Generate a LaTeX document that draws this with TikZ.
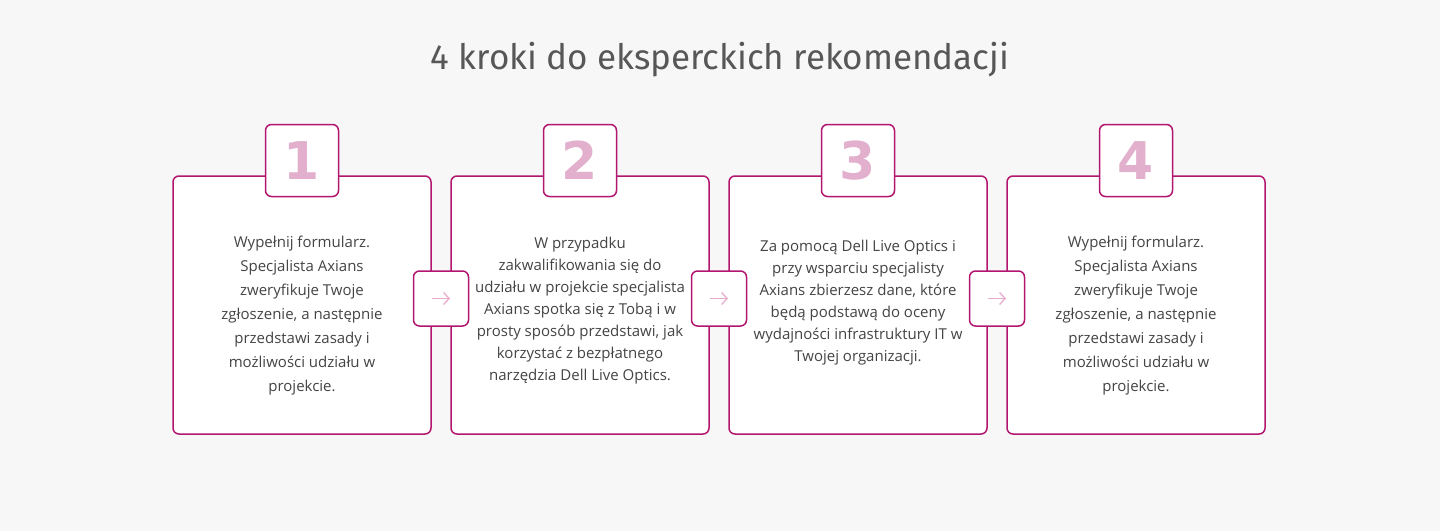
\documentclass[tikz,border=0pt]{standalone}
\usepackage{fontspec}
\setmainfont{Open Sans}
\newfontfamily\titlefont{Fira Sans}
\newfontfamily\digitfont{DejaVu Sans}
\usetikzlibrary{calc,positioning,arrows.meta}
\definecolor{bgpage}{HTML}{F7F7F7}
\definecolor{frame}{HTML}{B3166F}
\definecolor{digitpink}{HTML}{E2B0CD}
\definecolor{arrowpink}{HTML}{E8ADCD}
\definecolor{bodytext}{HTML}{444444}

\begin{document}
\begin{tikzpicture}[
      x=1pt, y=-1pt,
      every node/.style={text=bodytext},
      stepbox/.style={
        draw=frame, line width=1.5pt, fill=white,
        rounded corners=6pt,
        minimum width=258pt, minimum height=258pt,
        inner sep=0pt
      },
      numbox/.style={
        draw=frame, line width=1.5pt, fill=white,
        rounded corners=6pt,
        minimum width=73pt, minimum height=72pt,
        inner sep=0pt,
        font=\digitfont\bfseries\fontsize{52}{52}\selectfont,
        text=digitpink
      },
      arrowbox/.style={
        draw=frame, line width=1.5pt, fill=white,
        rounded corners=6pt,
        minimum width=55pt, minimum height=55pt,
        inner sep=0pt
      },
      arrowline/.style={
        draw=arrowpink, line width=1.3pt,
        -{Straight Barb[length=5.5pt,width=12pt,line width=1.3pt]}
      },
      desc/.style={
        align=center, inner sep=0pt,
        font=\fontsize{15}{24}\selectfont
      },
      desctight/.style={desc, font=\fontsize{15}{22}\selectfont}
    ]
      \fill[bgpage] (0,0) rectangle (1440,531);

      \node[font=\titlefont\fontsize{35}{35}\selectfont, text=bodytext!90] (title) at (720,60)
        {4 kroki do eksperckich rekomendacji};

      % kroki
      \node[stepbox] (s1) at (302,305) {};
      \node[stepbox] (s2) at (580,305) {};
      \node[stepbox] (s3) at (858,305) {};
      \node[stepbox] (s4) at (1136,305) {};

      \node[numbox, above=-22pt of s1.north] (n1) {1};
      \node[numbox, above=-22pt of s2.north] (n2) {2};
      \node[numbox, above=-22pt of s3.north] (n3) {3};
      \node[numbox, above=-22pt of s4.north] (n4) {4};

      % strzalki
      \node[arrowbox] (a1) at ($(s1.east)!0.5!(s2.west)+(0,-6.5)$) {};
      \node[arrowbox] (a2) at ($(s2.east)!0.5!(s3.west)+(0,-6.5)$) {};
      \node[arrowbox] (a3) at ($(s3.east)!0.5!(s4.west)+(0,-6.5)$) {};
      \draw[arrowline] ([xshift=-9pt]a1.center) -- ([xshift=9pt]a1.center);
      \draw[arrowline] ([xshift=-9pt]a2.center) -- ([xshift=9pt]a2.center);
      \draw[arrowline] ([xshift=-9pt]a3.center) -- ([xshift=9pt]a3.center);

      \node[desc] (t1) at (302,316) {
        Wypełnij formularz.\\
        Specjalista Axians\\
        zweryfikuje Twoje\\
        zgłoszenie, a następnie\\
        przedstawi zasady i\\
        możliwości udziału w\\
        projekcie.
      };
      \node[desctight] (t2) at (580,311) {
        W przypadku\\
        zakwalifikowania się do\\
        udziału w projekcie specjalista\\
        Axians spotka się z Tobą i w\\
        prosty sposób przedstawi, jak\\
        korzystać z bezpłatnego\\
        narzędzia Dell Live Optics.
      };
      \node[desctight] (t3) at (858,303) {
        Za pomocą Dell Live Optics i\\
        przy wsparciu specjalisty\\
        Axians zbierzesz dane, które\\
        będą podstawą do oceny\\
        wydajności infrastruktury IT w\\
        Twojej organizacji.
      };
      \node[desc] (t4) at (1136,316) {
        Wypełnij formularz.\\
        Specjalista Axians\\
        zweryfikuje Twoje\\
        zgłoszenie, a następnie\\
        przedstawi zasady i\\
        możliwości udziału w\\
        projekcie.
      };
    \end{tikzpicture}
\end{document}
